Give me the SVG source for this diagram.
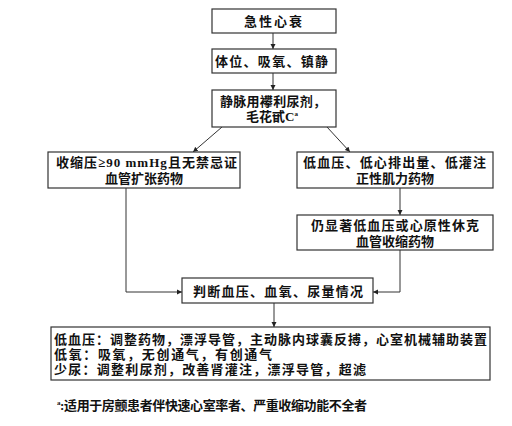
<svg xmlns="http://www.w3.org/2000/svg" width="512" height="426" viewBox="0 0 512 426">
<style>
.box{fill:#fff;stroke:#333;stroke-width:1.2}
.t{font-family:"Liberation Serif","Noto Sans CJK SC",serif;font-size:13px;fill:#111;font-weight:bold}
.tc{text-anchor:middle}
.ln{fill:none;stroke:#333;stroke-width:1}
</style>
<defs>
<marker id="ah" markerWidth="6" markerHeight="6" refX="5" refY="3" orient="auto" markerUnits="userSpaceOnUse">
<path d="M0,0.5 L5,3 L0,5.5 Z" fill="#222"/>
</marker>
</defs>
<rect width="512" height="426" fill="#fff"/>
<g id="connectors">
<line class="ln" x1="273" y1="33" x2="273" y2="49" marker-end="url(#ah)"/>
<line class="ln" x1="273" y1="73" x2="273" y2="90" marker-end="url(#ah)"/>
<line class="ln" x1="222" y1="127" x2="193" y2="152" marker-end="url(#ah)"/>
<line class="ln" x1="327" y1="127" x2="350" y2="152" marker-end="url(#ah)"/>
<line class="ln" x1="400" y1="188" x2="400" y2="215" marker-end="url(#ah)"/>
<polyline class="ln" points="126,188 126,292 182,292" marker-end="url(#ah)"/>
<polyline class="ln" points="400,250 400,292 373,292" marker-end="url(#ah)"/>
<line class="ln" x1="274" y1="303" x2="274" y2="327" marker-end="url(#ah)"/>
</g>
<g id="n1">
<rect class="box" x="212" y="9" width="124" height="24"/>
<text class="t tc" x="274" y="26" letter-spacing="2">急性心衰</text>
</g>
<g id="n2">
<rect class="box" x="212" y="49" width="124" height="24"/>
<text class="t" x="215" y="66" textLength="113">体位、吸氧、镇静</text>
</g>
<g id="n3">
<rect class="box" x="212" y="90" width="124" height="37"/>
<text class="t" x="220" y="106" textLength="106">静脉用襻利尿剂，</text>
<text class="t" x="246" y="121">毛花甙C<tspan font-size="7" dy="-5">a</tspan></text>
</g>
<g id="n4">
<rect class="box" x="48" y="152" width="192" height="36"/>
<text class="t" x="56" y="167" textLength="181">收缩压≥90 mmHg且无禁忌证</text>
<text class="t tc" x="144" y="183">血管扩张药物</text>
</g>
<g id="n5">
<rect class="box" x="297" y="152" width="196" height="36"/>
<text class="t" x="303" y="167" textLength="183">低血压、低心排出量、低灌注</text>
<text class="t tc" x="395" y="183">正性肌力药物</text>
</g>
<g id="n6">
<rect class="box" x="297" y="215" width="196" height="35"/>
<text class="t" x="311" y="230" textLength="168">仍显著低血压或心原性休克</text>
<text class="t tc" x="395" y="246">血管收缩药物</text>
</g>
<g id="n7">
<rect class="box" x="182" y="278" width="191" height="25"/>
<text class="t" x="193" y="296" textLength="170">判断血压、血氧、尿量情况</text>
</g>
<g id="n8">
<rect class="box" x="51" y="327" width="439" height="53"/>
<text class="t" x="54" y="344" textLength="433">低血压：调整药物，漂浮导管，主动脉内球囊反搏，心室机械辅助装置</text>
<text class="t" x="54" y="359" textLength="218">低氧：吸氧，无创通气，有创通气</text>
<text class="t" x="54" y="374" textLength="312">少尿：调整利尿剂，改善肾灌注，漂浮导管，超滤</text>
</g>
<g id="footnote">
<text class="t" x="57" y="410" font-weight="normal" textLength="310"><tspan font-size="7" dy="-5">a</tspan><tspan dy="5">:适用于房颤患者伴快速心室率者、严重收缩功能不全者</tspan></text>
</g>
</svg>
